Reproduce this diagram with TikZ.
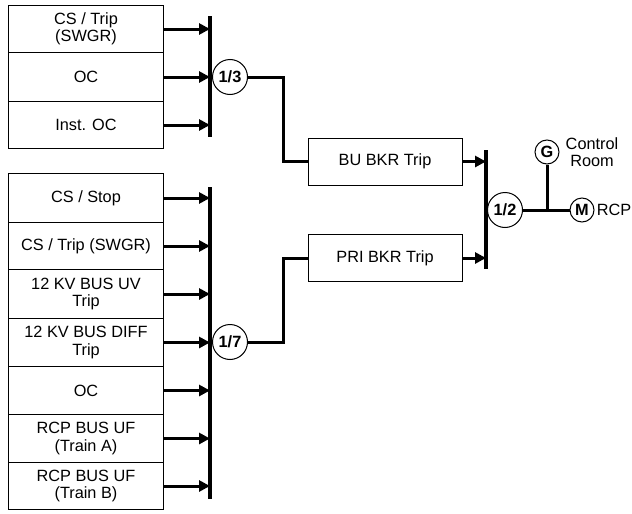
\documentclass[tikz,border=0pt]{standalone}
\usepackage{fontspec}
\setmainfont{Liberation Sans}
\usetikzlibrary{arrows.meta}
\begin{document}
\begin{tikzpicture}[x=1pt,y=-1pt,
  every node/.style={font=\fontsize{16.3}{17.5}\selectfont},
  inbox/.style={draw,line width=1pt,minimum width=155pt,minimum height=48pt,inner sep=0pt,align=center,anchor=north west},
  bkrbox/.style={draw,line width=1pt,minimum width=154pt,minimum height=47pt,inner sep=0pt,align=center},
  gate/.style={draw,circle,line width=1pt,minimum size=35pt,inner sep=0pt,font=\fontsize{16.3}{17.5}\selectfont\bfseries},
  smallgate/.style={draw,circle,line width=1pt,minimum size=24pt,inner sep=0pt,font=\fontsize{16.3}{17.5}\selectfont\bfseries},
  conn/.style={line width=3pt},
  arr/.style={line width=3pt,-{Triangle[length=11pt,width=11pt]}},
  barline/.style={line width=3.3pt}]
\useasboundingbox (0,0) rectangle (632,514);
% top group
\node[inbox,minimum height=47pt] (a1) at (8,5) {CS / Trip\\(SWGR)};
\node[inbox,minimum height=49pt] (a2) at (8,52) {OC};
\node[inbox,minimum height=47pt] (a3) at (8,101) {Inst. OC};
\coordinate (b1t) at (210,16);
\coordinate (b1b) at (210,137);
\draw[barline] (b1t) -- (b1b);
\draw[arr] (a1.east) -- (a1.east -| b1t);
\draw[arr] (a2.east) -- (a2.east -| b1t);
\draw[arr] (a3.east) -- (a3.east -| b1t);
\node[gate] (g13) at (230,77) {1/3};
% bottom group
\node[inbox,minimum height=49pt] (c1) at (8,173) {CS / Stop};
\node[inbox,minimum height=47pt] (c2) at (8,222) {CS / Trip (SWGR)};
\node[inbox,minimum height=49pt] (c3) at (8,269) {12 KV BUS UV\\Trip};
\node[inbox,minimum height=48pt] (c4) at (8,318) {12 KV BUS DIFF\\Trip};
\node[inbox,minimum height=48pt] (c5) at (8,366) {OC};
\node[inbox,minimum height=48pt] (c6) at (8,414) {RCP BUS UF\\(Train A)};
\node[inbox,minimum height=47pt] (c7) at (8,462) {RCP BUS UF\\(Train B)};
\coordinate (b2t) at (210,187);
\coordinate (b2b) at (210,499);
\draw[barline] (b2t) -- (b2b);
\foreach \n in {c1,c2,c3,c4,c5,c6,c7}
  \draw[arr] (\n.east) -- (\n.east -| b2t);
\node[gate] (g17) at (230,342) {1/7};
% breakers
\node[bkrbox] (bu) at (385,161.5) {BU BKR Trip};
\node[bkrbox] (pri) at (385,258) {PRI BKR Trip};
\draw[conn] (g13.east) -- (283,77) |- (bu.west);
\draw[conn] (g17.east) -- (283,342) |- (pri.west);
\coordinate (b3t) at (486,150);
\coordinate (b3b) at (486,269);
\draw[barline] (b3t) -- (b3b);
\draw[arr] (bu.east) -- (bu.east -| b3t);
\draw[arr] (pri.east) -- (pri.east -| b3t);
\node[gate] (g12) at (505,210) {1/2};
\node[smallgate] (gg) at (547,152) {G};
\node[smallgate] (mm) at (582,210) {M};
\coordinate (j) at (547,210);
\draw[conn] (g12.east) -- (mm.west);
\draw[conn] (gg.south) -- (j);
\node[align=center,inner sep=0pt] (cr) at (592,152) {Control\\Room};
\node[inner sep=0pt] (rcp) at (614,210) {RCP};
\end{tikzpicture}
\end{document}
